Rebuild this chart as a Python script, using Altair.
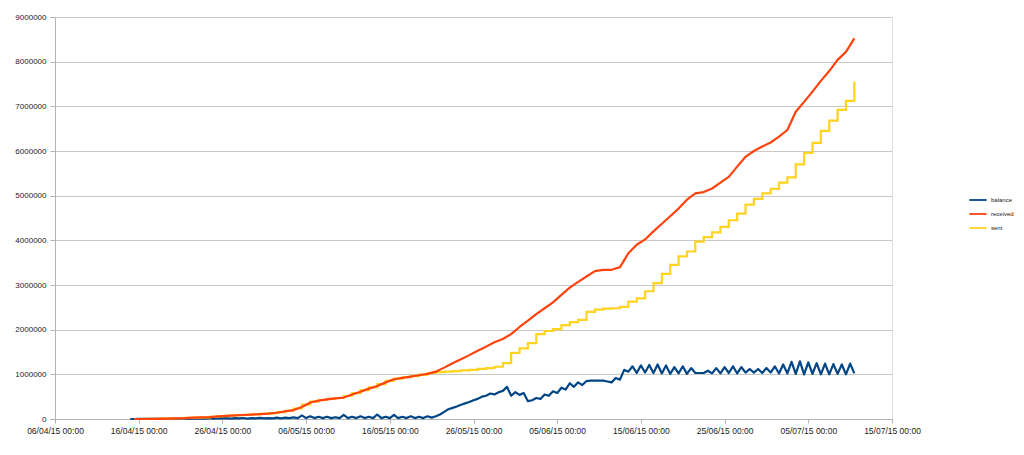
import altair as alt
import pandas as pd

# values in millions, daily (12:00) from 15/04/15 to 10/07/15
received_m = [
    0, 0, 0.002, 0.005, 0.01, 0.015, 0.02, 0.03, 0.035, 0.04,
    0.06, 0.07, 0.08, 0.09, 0.10, 0.11, 0.12, 0.14, 0.17, 0.20,
    0.27, 0.37, 0.41, 0.44, 0.46, 0.48, 0.55, 0.61, 0.68, 0.74,
    0.82, 0.89, 0.92, 0.95, 0.98, 1.01, 1.06, 1.15, 1.25, 1.34,
    1.43, 1.53, 1.62, 1.72, 1.79, 1.90, 2.06, 2.20, 2.35, 2.48,
    2.61, 2.78, 2.94, 3.07, 3.19, 3.31, 3.34, 3.34, 3.40, 3.71,
    3.90, 4.02, 4.20, 4.37, 4.54, 4.71, 4.91, 5.05, 5.08, 5.16,
    5.29, 5.42, 5.65, 5.87, 6.00, 6.10, 6.19, 6.32, 6.47, 6.88,
    7.10, 7.33, 7.57, 7.79, 8.04, 8.22, 8.52,
]
sent_m = [
    0, 0.001, 0.003, 0.007, 0.012, 0.017, 0.025, 0.032, 0.037, 0.05,
    0.065, 0.075, 0.085, 0.095, 0.105, 0.115, 0.13, 0.155, 0.185, 0.235,
    0.32, 0.39, 0.425, 0.45, 0.47, 0.515, 0.58, 0.645, 0.71, 0.78,
    0.855, 0.905, 0.935, 0.965, 0.995, 1.03, 1.05, 1.06, 1.07, 1.09,
    1.10, 1.12, 1.14, 1.17, 1.25, 1.48, 1.58, 1.70, 1.90, 1.97,
    2.01, 2.10, 2.17, 2.22, 2.40, 2.45, 2.47, 2.48, 2.51, 2.63,
    2.70, 2.86, 3.04, 3.25, 3.45, 3.64, 3.75, 3.97, 4.07, 4.18,
    4.30, 4.45, 4.60, 4.80, 4.93, 5.05, 5.15, 5.29, 5.41, 5.70,
    5.96, 6.18, 6.45, 6.68, 6.92, 7.12, 7.55,
]
# balance in millions, (00:00, 12:00) pairs per day from 15/04/15 to 10/07/15
balance_pairs = [
    (0, 0), (0.002, 0.004), (0.003, 0.006), (0.004, 0.008), (0.005, 0.01),
    (0.006, 0.012), (0.006, 0.014), (0.008, 0.015), (0.008, 0.016), (0.01, 0.02),
    (0.01, 0.018), (0.012, 0.02), (0.01, 0.02), (0.012, 0.022), (0.01, 0.02),
    (0.012, 0.025), (0.012, 0.02), (0.015, 0.03), (0.015, 0.03), (0.02, 0.035),
    (0.02, 0.08), (0.02, 0.06), (0.02, 0.05), (0.02, 0.05), (0.02, 0.04),
    (0.02, 0.09), (0.02, 0.05), (0.02, 0.06), (0.02, 0.05), (0.02, 0.10),
    (0.02, 0.05), (0.02, 0.09), (0.02, 0.05), (0.02, 0.06), (0.02, 0.05),
    (0.02, 0.06), (0.03, 0.06),
    (0.10, 0.16), (0.22, 0.25), (0.28, 0.32), (0.35, 0.38), (0.42, 0.45),
    (0.50, 0.52), (0.57, 0.55), (0.60, 0.63), (0.72, 0.52), (0.60, 0.54),
    (0.58, 0.40), (0.42, 0.47), (0.45, 0.55), (0.52, 0.62), (0.58, 0.70),
    (0.66, 0.80), (0.72, 0.82), (0.76, 0.85), (0.86, 0.86), (0.86, 0.86),
    (0.84, 0.82), (0.92, 0.88), (1.10, 1.06), (1.18, 1.03), (1.20, 1.04),
    (1.21, 1.03), (1.22, 1.02), (1.20, 1.01), (1.16, 1.02), (1.18, 1.01),
    (1.14, 1.03), (1.03, 1.03), (1.08, 1.02), (1.14, 1.02), (1.16, 1.03),
    (1.18, 1.02), (1.16, 1.04), (1.12, 1.04), (1.12, 1.03), (1.14, 1.04),
    (1.18, 1.02), (1.22, 1.02), (1.28, 1.01), (1.29, 1.00), (1.27, 1.01),
    (1.25, 1.00), (1.24, 1.00), (1.23, 1.01), (1.22, 1.00), (1.24, 1.02),
]
x_tick_dates = ["2015-04-06", "2015-04-16", "2015-04-26", "2015-05-06", "2015-05-16",
                "2015-05-26", "2015-06-05", "2015-06-15", "2015-06-25", "2015-07-05",
                "2015-07-15"]
series_names = ["balance", "received", "sent"]
series_colors = ["#004586", "#ff420e", "#ffd320"]

day_times = pd.date_range("2015-04-15 12:00", periods=len(received_m), freq="D")
bal_times = pd.date_range("2015-04-15 00:00", periods=2 * len(balance_pairs), freq="12h")
bal_values = [v for pair in balance_pairs for v in pair]

fmt = "%Y-%m-%dT%H:%M:%S"
df_bal = pd.DataFrame({"t": bal_times.strftime(fmt), "v": [v * 1e6 for v in bal_values], "series": "balance"})
df_rec = pd.DataFrame({"t": day_times.strftime(fmt), "v": [v * 1e6 for v in received_m], "series": "received"})
df_sent = pd.DataFrame({"t": day_times.strftime(fmt), "v": [v * 1e6 for v in sent_m], "series": "sent"})


def dt(s):
    y, m, d = s.split("-")
    return alt.DateTime(year=int(y), month=int(m), date=int(d), hours=0)


x_enc = alt.X(
    "t:T",
    scale=alt.Scale(domain=[dt(x_tick_dates[0]), dt(x_tick_dates[-1])], nice=False),
    axis=alt.Axis(values=[dt(s) for s in x_tick_dates], format="%d/%m/%y %H:%M", title=None,
                  grid=False, labelFontSize=8.5, labelColor="#222222", tickColor="#b3b3b3",
                  domainColor="#b3b3b3", tickSize=4, labelPadding=3, labelFont="Liberation Sans",
                  labelOverlap=False, labelFlush=False),
)
y_enc = alt.Y(
    "v:Q",
    scale=alt.Scale(domain=[0, 9000000], nice=False),
    axis=alt.Axis(values=list(range(0, 9000001, 1000000)), format="d", title=None,
                  gridColor="#c8c8c8", gridWidth=1, labelFontSize=8, labelColor="#222222",
                  tickColor="#b3b3b3", domainColor="#b3b3b3", tickSize=5, labelPadding=4,
                  labelFont="Liberation Sans"),
)
color_enc = alt.Color(
    "series:N",
    scale=alt.Scale(domain=series_names, range=series_colors),
    legend=alt.Legend(orient="none", legendX=913, legendY=173, title=None, symbolType="stroke",
                      symbolSize=300, symbolStrokeWidth=1.8, labelFontSize=6,
                      labelFont="Liberation Sans", labelColor="#222222", rowPadding=0,
                      labelOffset=3),
)

bal = alt.Chart(df_bal).mark_line(strokeWidth=2.2, strokeJoin="round").encode(x=x_enc, y=y_enc, color=color_enc)
rec = alt.Chart(df_rec).mark_line(strokeWidth=2.2, strokeJoin="round").encode(x=x_enc, y=y_enc, color=color_enc)
snt = alt.Chart(df_sent).mark_line(strokeWidth=2.2, interpolate="step-after").encode(x=x_enc, y=y_enc, color=color_enc)

chart = alt.layer(bal, snt, rec).properties(
    width=837, height=402,
    autosize=alt.AutoSizeParams(type="none"),
    padding={"left": 55, "top": 17, "right": 132, "bottom": 36},
).configure_view(stroke=None).configure(background="white")

chart.save("out.html", embed_options={"renderer": "svg", "actions": False})
